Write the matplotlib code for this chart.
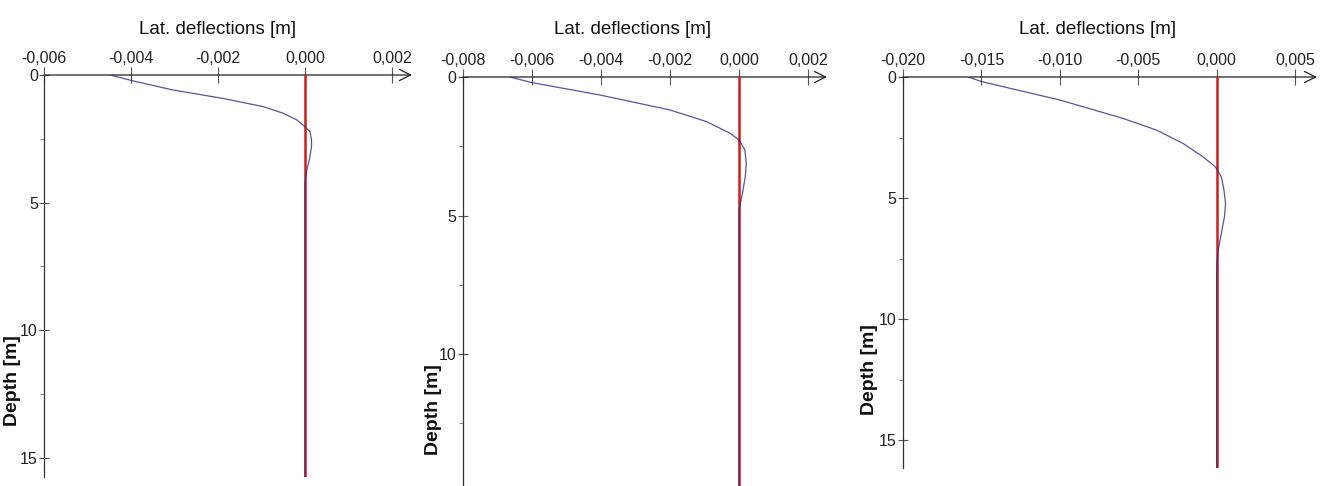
import matplotlib
matplotlib.use("Agg")
from matplotlib import pyplot as plt
from matplotlib.ticker import FuncFormatter, FixedLocator

plt.rcParams["axes.unicode_minus"] = False

# depth [m] / lateral deflection [m]
depth_1 = [0, 0.22, 0.59, 0.92, 1.24, 1.50, 1.76, 2.03, 2.22, 2.55, 2.81, 3.33, 3.73, 4.2, 15.76]
defl_1 = [-0.00448, -0.00398, -0.00303, -0.00188, -0.00096, -0.00050, -0.00019, 0.0,
          0.000115, 0.00015, 0.00015, 0.0001, 0.00004, 0.0, 0.0]

depth_2 = [0, 0.2, 0.65, 1.19, 1.61, 2.03, 2.27, 2.63, 3.12, 3.6, 4.2, 4.8, 15.7]
defl_2 = [-0.00664, -0.00601, -0.00403, -0.00200, -0.00094, -0.00026, 0.0,
          0.00017, 0.00021, 0.00018, 0.0001, 0.0, 0.0]

depth_3 = [0, 0.19, 0.95, 1.71, 2.19, 2.74, 3.29, 3.7, 4.12, 4.6, 5.22, 5.77, 6.46, 7.15, 7.7, 8.1, 16.15]
defl_3 = [-0.01584, -0.01499, -0.0100, -0.00597, -0.00384, -0.00215, -0.00088, -0.0001,
          0.0003, 0.00045, 0.00057, 0.0005, 0.0003, 0.0001, 0.00002, 0.0, 0.0]

xticks_1 = [-0.006, -0.004, -0.002, 0.000, 0.002]
xticks_2 = [-0.008, -0.006, -0.004, -0.002, 0.000, 0.002]
xticks_3 = [-0.020, -0.015, -0.010, -0.005, 0.000, 0.005]
yticks = [0, 5, 10, 15]

title_txt = "Lat. deflections [m]"
ylabel_txt = "Depth [m]"

W, H = 1327, 486
arial = ["Liberation Sans", "DejaVu Sans"]


def comma_fmt(v, pos):
    s = "%.3f" % v
    if s == "-0.000":
        s = "0.000"
    return s.replace(".", ",")


def make_panel(fig, box, xlim, ylim, xticks, depth, defl, title_x, label_xy):
    # box in pixels: left, top (y of depth 0), right, bottom
    l, t, r, b = box
    ax = fig.add_axes([l / W, (H - b) / H, (r - l) / W, (b - t) / H])
    ax.set_xlim(*xlim)
    ax.set_ylim(ylim, 0)
    for s in ["right", "bottom", "top"]:
        ax.spines[s].set_visible(False)
    ax.spines["left"].set_color("#333333")
    ax.spines["left"].set_linewidth(0.9)

    ax.xaxis.tick_top()
    ax.set_xticks(xticks)
    ax.xaxis.set_major_formatter(FuncFormatter(comma_fmt))
    ax.tick_params(axis="x", direction="inout", length=11, width=0.8, color="#555555",
                   pad=1, labelsize=11.5, labelcolor="#222222")
    ax.set_yticks(yticks)
    ax.yaxis.set_minor_locator(FixedLocator([2.5, 7.5, 12.5]))
    ax.tick_params(axis="y", which="major", direction="inout", length=7, width=0.8,
                   color="#555555", pad=1, labelsize=11.5, labelcolor="#222222")
    ax.tick_params(axis="y", which="minor", direction="out", length=3, width=0.6, color="#777777")
    for lab in ax.get_xticklabels() + ax.get_yticklabels():
        lab.set_family(arial)

    # x axis with open arrow head
    ax.annotate("", xy=(xlim[1], 0), xytext=(xlim[0], 0), xycoords="data",
                arrowprops=dict(arrowstyle="->", color="#222222", lw=0.9,
                                mutation_scale=20, shrinkA=0, shrinkB=0),
                annotation_clip=False)

    ax.plot([0, 0], [0, ylim], color="#d01c1c", lw=1.8, zorder=3)
    ax.plot(defl, depth, color="#2c2c80", lw=0.9, alpha=0.8, zorder=4)

    fig.text(title_x / W, 1 - 29 / H, title_txt, ha="center", va="center",
             fontsize=13.5, family=arial, color="#111111")
    fig.text(label_xy[0] / W, 1 - label_xy[1] / H, ylabel_txt, rotation=90,
             ha="center", va="center", fontsize=14, fontweight="bold",
             family=arial, color="#111111")
    return ax


fig = plt.figure(figsize=(W / 100, H / 100), dpi=100)
fig.patch.set_facecolor("white")

make_panel(fig, (44, 75, 412, 477), (-0.006, 0.00246), 15.76, xticks_1,
           depth_1, defl_1, 218, (13, 381))
make_panel(fig, (463, 77, 827, 512), (-0.008, 0.00255), 15.7, xticks_2,
           depth_2, defl_2, 633, (434, 410))
make_panel(fig, (903, 77, 1317, 468), (-0.020, 0.0064), 16.15, xticks_3,
           depth_3, defl_3, 1098, (870, 370))

fig.savefig("out.png", dpi=100)
